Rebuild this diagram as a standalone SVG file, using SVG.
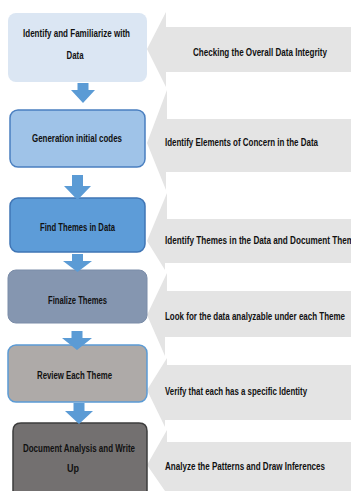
<svg xmlns="http://www.w3.org/2000/svg" width="351" height="491" viewBox="0 0 351 491">
<style>
.t{font-family:"Liberation Sans Narrow","Liberation Sans",Arial,sans-serif;font-weight:bold;font-size:11.5px;fill:#111;}
.g{fill:#e4e4e4;}
.da{fill:#5b9bd5;}
</style>
<rect width="351" height="491" fill="#ffffff"/>
<g id="feedback">
<g id="a1"><polygon class="g" points="351,27 166,27 166,12 147,49 166,87 166,72 351,72"/><text class="t" x="193" y="56" textLength="134" lengthAdjust="spacingAndGlyphs">Checking the Overall Data Integrity</text></g>
<g id="a2"><polygon class="g" points="351,119 167,119 167,90 147,143 166,190 166,172 351,172"/><text class="t" x="165" y="146" textLength="153" lengthAdjust="spacingAndGlyphs">Identify Elements of Concern in the Data</text></g>
<g id="a3"><polygon class="g" points="351,219 167,219 167,193 147,241 165,270 165,263 351,263"/><text class="t" x="165" y="244" textLength="189" lengthAdjust="spacingAndGlyphs">Identify Themes in the Data and Document Them</text></g>
<g id="a4"><polygon class="g" points="351,291 167,291 167,273 147,315 165,356 165,337 351,337"/><text class="t" x="165" y="320" textLength="180" lengthAdjust="spacingAndGlyphs">Look for the data analyzable under each Theme</text></g>
<g id="a5"><polygon class="g" points="351,365 167,365 167,358 147,390 165,427 165,420 351,420"/><text class="t" x="165" y="395" textLength="142" lengthAdjust="spacingAndGlyphs">Verify that each has a specific Identity</text></g>
<g id="a6"><polygon class="g" points="351,442 167,442 167,430 147,465 165,491 351,491"/><text class="t" x="165" y="470" textLength="160" lengthAdjust="spacingAndGlyphs">Analyze the Patterns and Draw Inferences</text></g>
</g>
<g id="b1"><rect x="8" y="13" width="139" height="69" rx="8" fill="#dbe6f3"/><text class="t" x="76.5" y="37" text-anchor="middle" textLength="107" lengthAdjust="spacingAndGlyphs">Identify and Familiarize with</text><text class="t" x="75" y="59" text-anchor="middle" textLength="17" lengthAdjust="spacingAndGlyphs">Data</text></g>
<g id="b2"><rect x="10" y="110" width="135" height="57" rx="8" fill="#9fc3e8" stroke="#4a7fc0" stroke-width="1.5"/><text class="t" x="77" y="142" text-anchor="middle" textLength="90" lengthAdjust="spacingAndGlyphs">Generation initial codes</text></g>
<g id="b3"><rect x="10" y="198" width="135" height="54" rx="8" fill="#5d9cd8" stroke="#3f75b5" stroke-width="1.5"/><text class="t" x="77.5" y="231" text-anchor="middle" textLength="75" lengthAdjust="spacingAndGlyphs">Find Themes in Data</text></g>
<g id="b4"><rect x="8" y="270" width="139" height="53" rx="8" fill="#8596b0" stroke="#7a8ca8" stroke-width="1"/><text class="t" x="77.5" y="304" text-anchor="middle" textLength="59" lengthAdjust="spacingAndGlyphs">Finalize Themes</text></g>
<g id="b5"><rect x="8" y="345" width="139" height="57" rx="8" fill="#aeaaa8" stroke="#5b9bd5" stroke-width="1.5"/><text class="t" x="74.5" y="379" text-anchor="middle" textLength="75" lengthAdjust="spacingAndGlyphs">Review Each Theme</text></g>
<g id="b6"><path d="M13,491 V431 Q13,423 21,423 H139 Q147,423 147,431 V491" fill="#737070" stroke="#3d3d3d" stroke-width="1.5"/><text class="t" x="79" y="452" text-anchor="middle" textLength="112" lengthAdjust="spacingAndGlyphs">Document Analysis and Write</text><text class="t" x="73" y="472" text-anchor="middle" textLength="12" lengthAdjust="spacingAndGlyphs">Up</text></g>
<g id="connectors">
<polygon class="da" points="77.5,83 88.5,83 88.5,90 95,90 83,103 71,90 77.5,90"/>
<polygon class="da" points="72,175 83,175 83,186 91,186 77.5,200 64,186 72,186"/>
<polygon class="da" points="72,254 83,254 83,261 92,261 77.5,272 63,261 72,261"/>
<polygon class="da" points="71.5,331 82.5,331 82.5,338 92,338 77,350 62,338 71.5,338"/>
<polygon class="da" points="73.5,403 84.5,403 84.5,411 93,411 79,424 65,411 73.5,411"/>
</g>
</svg>
